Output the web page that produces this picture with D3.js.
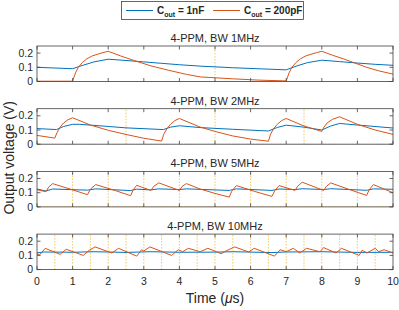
<!DOCTYPE html>
<html>
<head>
<meta charset="utf-8">
<script src="https://cdn.jsdelivr.net/npm/d3@7"></script>
<style>
  body { margin: 0; background: #fff; }
  text { font-family: "Liberation Sans", Arial, sans-serif; fill: #262626; }
</style>
</head>
<body>
<div id="paper"></div>
<script>
// ---- data (time in us, voltage in V) ----
const titles = ["4-PPM, BW 1MHz", "4-PPM, BW 2MHz", "4-PPM, BW 5MHz", "4-PPM, BW 10MHz"];
const xTicks = [0, 1, 2, 3, 4, 5, 6, 7, 8, 9, 10];
const yTicks = [0, 0.1, 0.2];

const blue1 = [[0,0.10],[1,0.09],[1.3,0.115],[1.6,0.138],[2,0.157],[2.5,0.148],[3,0.138],[3.5,0.128],[4,0.118],[4.6,0.108],[5.5,0.097],[6.3,0.089],[7,0.082],[7.3,0.11],[7.6,0.133],[8,0.15],[8.5,0.14],[9,0.13],[9.5,0.121],[10,0.114]];
const orange1 = [[0,0.002],[1,0.002],[1.08,0.06],[1.16,0.10],[1.28,0.135],[1.4,0.16],[1.55,0.18],[1.7,0.192],[1.85,0.203],[2,0.213],[2.35,0.18],[2.7,0.15],[3.2,0.11],[3.7,0.079],[4.2,0.05],[4.6,0.032],[5.5,0.019],[6.2,0.01],[7,0.004],[7.08,0.06],[7.16,0.10],[7.28,0.135],[7.4,0.16],[7.55,0.18],[7.7,0.192],[7.85,0.203],[8,0.213],[8.3,0.185],[8.6,0.16],[9.26,0.10],[9.6,0.075],[10,0.052]];
const pulses1 = [5];

const blue2 = [[0,0.11],[0.55,0.103],[0.75,0.125],[1.0,0.14],[1.2,0.14],[2,0.125],[2.5,0.115],[3.55,0.103],[3.75,0.12],[4.0,0.13],[4.58,0.117],[5.5,0.105],[6.5,0.093],[6.75,0.118],[7.0,0.134],[7.5,0.12],[8.0,0.1],[8.25,0.128],[8.5,0.146],[9,0.135],[10,0.114]];
const orange2 = [[0,0.062],[0.5,0.043],[0.56,0.08],[0.65,0.12],[0.75,0.15],[0.87,0.172],[1.0,0.186],[1.5,0.135],[2,0.098],[2.53,0.067],[3,0.042],[3.5,0.022],[3.56,0.07],[3.65,0.11],[3.75,0.14],[3.87,0.166],[4.0,0.181],[4.58,0.121],[5,0.09],[5.5,0.058],[6,0.036],[6.5,0.021],[6.56,0.07],[6.65,0.11],[6.75,0.14],[6.87,0.166],[7.0,0.181],[7.5,0.128],[8,0.09],[8.06,0.12],[8.15,0.15],[8.3,0.175],[8.5,0.193],[9,0.14],[9.5,0.1],[10,0.069]];
const pulses2 = [2.5, 5, 7.5];

const blue3 = [[0,0.126],[0.25,0.112],[0.44,0.126],[1.42,0.118],[1.65,0.127],[2.63,0.115],[2.8,0.125],[3.2,0.12],[3.42,0.127],[4.0,0.122],[4.2,0.127],[5.4,0.116],[5.6,0.127],[6.6,0.116],[6.8,0.126],[7.25,0.122],[7.45,0.128],[8.05,0.122],[8.25,0.128],[9.26,0.117],[9.45,0.127],[10,0.124]];
const orange3 = [[0,0.121],[0.25,0.107],[0.33,0.14],[0.44,0.164],[1.0,0.12],[1.42,0.086],[1.5,0.125],[1.65,0.157],[2.2,0.115],[2.63,0.079],[2.7,0.12],[2.8,0.152],[3.2,0.116],[3.28,0.145],[3.42,0.169],[4.0,0.116],[4.08,0.145],[4.2,0.164],[4.58,0.126],[5.0,0.095],[5.4,0.069],[5.47,0.11],[5.6,0.15],[6.1,0.11],[6.6,0.074],[6.68,0.115],[6.8,0.15],[7.25,0.116],[7.32,0.145],[7.45,0.174],[8.05,0.116],[8.13,0.145],[8.25,0.169],[8.8,0.12],[9.26,0.081],[9.33,0.12],[9.45,0.157],[10,0.10]];
const pulses3 = [1, 2, 3, 4, 5, 6, 7, 8, 9];

const blue4 = [[0,0.118],[0.2,0.124],[1,0.122],[1.6,0.126],[2.5,0.121],[3.2,0.126],[4,0.122],[5,0.123],[5.5,0.126],[6.6,0.12],[7,0.124],[8,0.126],[9,0.121],[10,0.122]];
const orange4 = [[0,0.112],[0.07,0.102],[0.23,0.15],[0.65,0.107],[0.82,0.143],[1.3,0.10],[1.47,0.136],[1.63,0.16],[2.1,0.117],[2.29,0.15],[2.8,0.095],[2.94,0.14],[3.0,0.131],[3.17,0.16],[3.78,0.10],[3.97,0.14],[4.09,0.126],[4.25,0.15],[4.58,0.126],[4.8,0.15],[5.17,0.112],[5.3,0.13],[5.55,0.16],[5.95,0.124],[6.1,0.15],[6.67,0.095],[6.83,0.14],[7.0,0.126],[7.2,0.15],[7.38,0.117],[7.57,0.15],[7.95,0.126],[8.05,0.155],[8.4,0.117],[8.55,0.15],[9.05,0.10],[9.13,0.136],[9.27,0.117],[9.5,0.15],[9.6,0.126],[9.75,0.14],[10,0.117]];
const pulses4 = [0.5, 1, 1.5, 2, 2.5, 3, 3.5, 4, 4.5, 5, 5.5, 6, 6.5, 7, 7.5, 8, 8.5, 9, 9.5];

const panels = [
  {blue: blue1, orange: orange1, pulses: pulses1},
  {blue: blue2, orange: orange2, pulses: pulses2},
  {blue: blue3, orange: orange3, pulses: pulses3},
  {blue: blue4, orange: orange4, pulses: pulses4}
];

const C_BLUE = "#0072BD", C_ORANGE = "#D95319", C_YELLOW = "#EDB120";

const width = 399, height = 310;
const left = 37, right = 393;
const panelTop = i => 46 + i * 62.7;
const panelH = 35.5;

const svg = d3.select("#paper").append("svg")
  .attr("width", width).attr("height", height);

const x = d3.scaleLinear().domain([0, 10]).range([left, right]);

panels.forEach((p, i) => {
  const top = panelTop(i), bottom = top + panelH;
  const y = d3.scaleLinear().domain([0, 0.25]).range([bottom, top]);
  const g = svg.append("g");

  g.append("clipPath").attr("id", "clip" + i)
    .append("rect").attr("x", left).attr("y", top).attr("width", right - left).attr("height", panelH);

  const plot = g.append("g").attr("clip-path", `url(#clip${i})`);

  // input pulses (dotted)
  const dots = plot.append("g").attr("stroke", C_YELLOW).attr("stroke-opacity", 0.7)
    .attr("stroke-width", 1).attr("stroke-dasharray", "1.5,1.5");
  dots.append("line")
    .attr("x1", x(0)).attr("x2", x(10)).attr("y1", y(0)).attr("y2", y(0));
  dots.selectAll(".pulse").data(p.pulses).join("line")
    .attr("x1", d => x(d)).attr("x2", d => x(d))
    .attr("y1", y(0)).attr("y2", y(0.3));

  const line = d3.line().x(d => x(d[0])).y(d => y(d[1]));
  plot.append("path").datum(p.blue).attr("d", line)
    .attr("fill", "none").attr("stroke", C_BLUE).attr("stroke-width", 1);
  plot.append("path").datum(p.orange).attr("d", line)
    .attr("fill", "none").attr("stroke", C_ORANGE).attr("stroke-width", 1);

  // box with inward ticks on all sides
  const ax = g.append("g").attr("stroke", "#404040").attr("stroke-width", 0.8).attr("fill", "none");
  ax.append("rect").attr("x", left).attr("y", top).attr("width", right - left).attr("height", panelH);
  const tl = 3.5;
  xTicks.forEach(t => {
    ax.append("line").attr("x1", x(t)).attr("x2", x(t)).attr("y1", bottom).attr("y2", bottom - tl);
    ax.append("line").attr("x1", x(t)).attr("x2", x(t)).attr("y1", top).attr("y2", top + tl);
  });
  yTicks.forEach(t => {
    ax.append("line").attr("x1", left).attr("x2", left + tl).attr("y1", y(t)).attr("y2", y(t));
    ax.append("line").attr("x1", right).attr("x2", right - tl).attr("y1", y(t)).attr("y2", y(t));
  });

  g.selectAll(".ytl").data(yTicks).join("text")
    .attr("x", left - 4).attr("y", d => y(d)).attr("dy", "0.35em")
    .attr("text-anchor", "end").attr("font-size", 10.5)
    .text(d => d === 0 ? "0" : d3.format(".1f")(d));

  if (i === panels.length - 1) {
    g.selectAll(".xtl").data(xTicks).join("text")
      .attr("x", d => x(d)).attr("y", bottom + 15)
      .attr("text-anchor", "middle").attr("font-size", 10.5)
      .text(d => d);
  }

  g.append("text")
    .attr("x", (left + right) / 2).attr("y", top - 4)
    .attr("text-anchor", "middle").attr("font-size", 11)
    .text(titles[i]);
});

// axis labels
svg.append("text")
  .attr("transform", `translate(14,${(panelTop(0) + panelTop(3) + panelH) / 2}) rotate(-90)`)
  .attr("text-anchor", "middle").attr("font-size", 14)
  .text("Output voltage (V)");

const xl = svg.append("text")
  .attr("x", (left + right) / 2).attr("y", 303)
  .attr("text-anchor", "middle").attr("font-size", 14);
xl.append("tspan").text("Time (");
xl.append("tspan").attr("font-style", "italic").text("\u03bc");
xl.append("tspan").text("s)");

// legend
const lg = svg.append("g");
lg.append("rect").attr("x", 121.5).attr("y", 1.5).attr("width", 182).attr("height", 18)
  .attr("fill", "#fff").attr("stroke", "#404040").attr("stroke-width", 0.8);
const entries = [
  {color: C_BLUE, x0: 126, label: " = 1nF"},
  {color: C_ORANGE, x0: 213, label: " = 200pF"}
];
entries.forEach(e => {
  lg.append("line").attr("x1", e.x0).attr("x2", e.x0 + 27).attr("y1", 10.5).attr("y2", 10.5)
    .attr("stroke", e.color).attr("stroke-width", 1);
  const t = lg.append("text").attr("x", e.x0 + 31).attr("y", 14)
    .attr("font-size", 10).attr("font-weight", "bold");
  t.append("tspan").text("C");
  t.append("tspan").attr("font-size", 7).attr("dy", 3).text("out");
  t.append("tspan").attr("dy", -3).text(e.label);
});
</script>
</body>
</html>
